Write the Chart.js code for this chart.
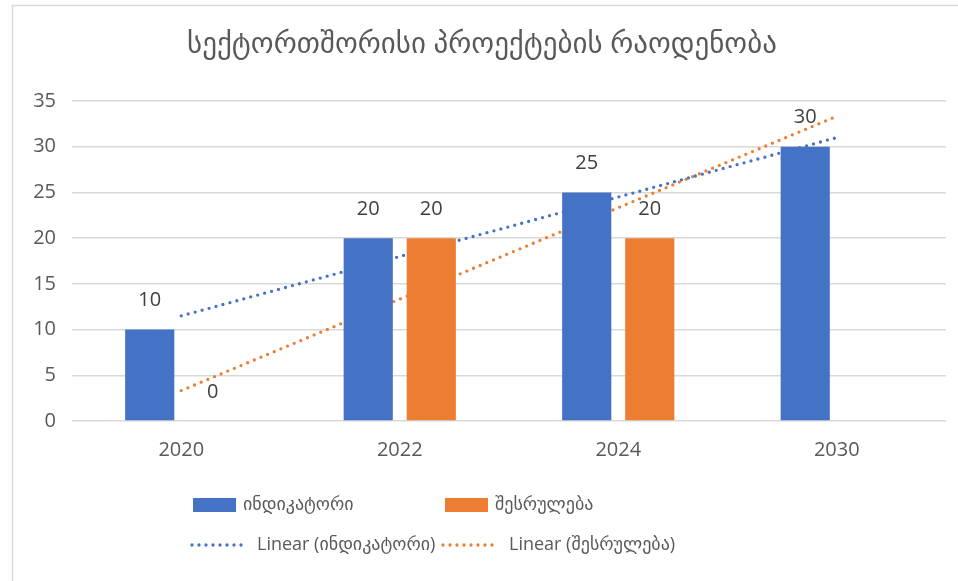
<!DOCTYPE html>
<html>
<head>
<meta charset="utf-8">
<script src="https://cdn.jsdelivr.net/npm/chart.js@4/dist/chart.umd.min.js"></script>
<style>
  html, body { margin: 0; padding: 0; background: #ffffff; }
  #wrap { width: 958px; height: 581px; }
</style>
</head>
<body>
<div id="wrap"><canvas id="c" width="958" height="581"></canvas></div>
<script>
// Chart content
const chartTitle = 'სექტორთშორისი პროექტების რაოდენობა';
const years = ['2020', '2022', '2024', '2030'];
const seriesNames = ['ინდიკატორი', 'შესრულება'];
const indicatorValues = [10, 20, 25, 30];
const performanceValues = [0, 20, 20, null];
// Linear trend lines: value at the first and at the last year
const trendIndicator = [11.5, 31];
const trendPerformance = [3.33, 33.33];
const yTicks = [0, 5, 10, 15, 20, 25, 30, 35];

const BLUE = '#4472C4';
const ORANGE = '#ED7D31';
const TEXT = '#595959';
const LABEL = '#404040';
const GRID = '#d9d9d9';
const FONT = '"Open Sans", "DejaVu Sans", sans-serif';

function trendPoints(ends) {
  return [
    { x: years[0], y: ends[0] },
    { x: years[years.length - 1], y: ends[1] }
  ];
}

// White background and the thin frame along the top and left edges
const framePlugin = {
  id: 'frame',
  beforeDraw(chart) {
    const ctx = chart.ctx;
    ctx.save();
    ctx.fillStyle = '#ffffff';
    ctx.fillRect(0, 0, chart.width, chart.height);
    ctx.strokeStyle = GRID;
    ctx.lineWidth = 1.5;
    ctx.beginPath();
    ctx.moveTo(12.5, chart.height);
    ctx.lineTo(12.5, 5.5);
    ctx.lineTo(chart.width, 5.5);
    ctx.stroke();
    ctx.restore();
  }
};

// Title text
const titlePlugin = {
  id: 'titleText',
  afterDraw(chart) {
    const ctx = chart.ctx;
    ctx.save();
    ctx.font = '29px ' + FONT;
    ctx.fillStyle = TEXT;
    ctx.textAlign = 'center';
    ctx.textBaseline = 'middle';
    ctx.fillText(chartTitle, 482, 45);
    ctx.restore();
  }
};

// Value labels above each bar
const valueLabels = {
  id: 'valueLabels',
  afterDatasetsDraw(chart) {
    const ctx = chart.ctx;
    ctx.save();
    ctx.font = '20px ' + FONT;
    ctx.fillStyle = LABEL;
    ctx.textAlign = 'center';
    ctx.textBaseline = 'middle';
    chart.data.datasets.forEach((ds, i) => {
      if (ds.type !== 'bar') return;
      const meta = chart.getDatasetMeta(i);
      meta.data.forEach((el, j) => {
        const v = ds.data[j];
        if (v === null || v === undefined) return;
        ctx.fillText(String(v), el.x, el.y - 29);
      });
    });
    ctx.restore();
  }
};

// Two-row legend under the plot
const legendPlugin = {
  id: 'customLegend',
  afterDraw(chart) {
    const ctx = chart.ctx;
    const ds = chart.data.datasets;
    const items = [
      { d: ds[0], kind: 'box',  sx: 193, tx: 243, y: 505 },
      { d: ds[1], kind: 'box',  sx: 445, tx: 495, y: 505 },
      { d: ds[2], kind: 'dots', sx: 192, tx: 257, y: 545 },
      { d: ds[3], kind: 'dots', sx: 443, tx: 509, y: 545 }
    ];
    ctx.save();
    ctx.font = '18px ' + FONT;
    ctx.textBaseline = 'middle';
    ctx.textAlign = 'left';
    items.forEach(it => {
      if (it.kind === 'box') {
        ctx.fillStyle = it.d.backgroundColor;
        ctx.fillRect(it.sx, it.y - 7, 43, 14);
      } else {
        ctx.strokeStyle = it.d.borderColor;
        ctx.lineWidth = 3.3;
        ctx.lineCap = 'round';
        ctx.setLineDash([0, 7]);
        ctx.beginPath();
        ctx.moveTo(it.sx, it.y);
        ctx.lineTo(it.sx + 56, it.y);
        ctx.stroke();
        ctx.setLineDash([]);
      }
      ctx.fillStyle = TEXT;
      ctx.fillText(it.d.label, it.tx, it.y);
    });
    ctx.restore();
  }
};

new Chart(document.getElementById('c'), {
  type: 'bar',
  data: {
    labels: years,
    datasets: [
      {
        type: 'bar',
        label: seriesNames[0],
        data: indicatorValues,
        backgroundColor: BLUE,
        categoryPercentage: 0.577,
        barPercentage: 0.78,
        order: 0
      },
      {
        type: 'bar',
        label: seriesNames[1],
        data: performanceValues,
        backgroundColor: ORANGE,
        categoryPercentage: 0.577,
        barPercentage: 0.78,
        order: 0
      },
      {
        type: 'line',
        label: 'Linear (' + seriesNames[0] + ')',
        data: trendPoints(trendIndicator),
        borderColor: BLUE,
        backgroundColor: BLUE,
        borderWidth: 3.3,
        borderDash: [0, 7.2],
        borderCapStyle: 'round',
        pointRadius: 0,
        fill: false,
        order: 1
      },
      {
        type: 'line',
        label: 'Linear (' + seriesNames[1] + ')',
        data: trendPoints(trendPerformance),
        borderColor: ORANGE,
        backgroundColor: ORANGE,
        borderWidth: 3.3,
        borderDash: [0, 7.2],
        borderCapStyle: 'round',
        pointRadius: 0,
        fill: false,
        order: 1
      }
    ]
  },
  options: {
    responsive: false,
    animation: false,
    layout: { padding: { left: 0, right: 12, top: 101, bottom: 100 } },
    plugins: {
      legend: { display: false },
      title: { display: false },
      tooltip: { enabled: false }
    },
    scales: {
      x: {
        offset: true,
        grid: { display: false, drawTicks: false },
        border: { display: false },
        ticks: { color: TEXT, font: { family: FONT, size: 20 }, padding: 17 },
        afterFit(scale) { scale.height = 60; }
      },
      y: {
        min: 0,
        max: 35,
        afterBuildTicks(scale) { scale.ticks = yTicks.map(v => ({ value: v })); },
        grid: { color: GRID, lineWidth: 1.5, drawTicks: false },
        border: { display: false },
        ticks: { color: TEXT, font: { family: FONT, size: 20 }, padding: 16 },
        afterFit(scale) { scale.width = 72; }
      }
    }
  },
  plugins: [framePlugin, valueLabels, titlePlugin, legendPlugin]
});
</script>
</body>
</html>
